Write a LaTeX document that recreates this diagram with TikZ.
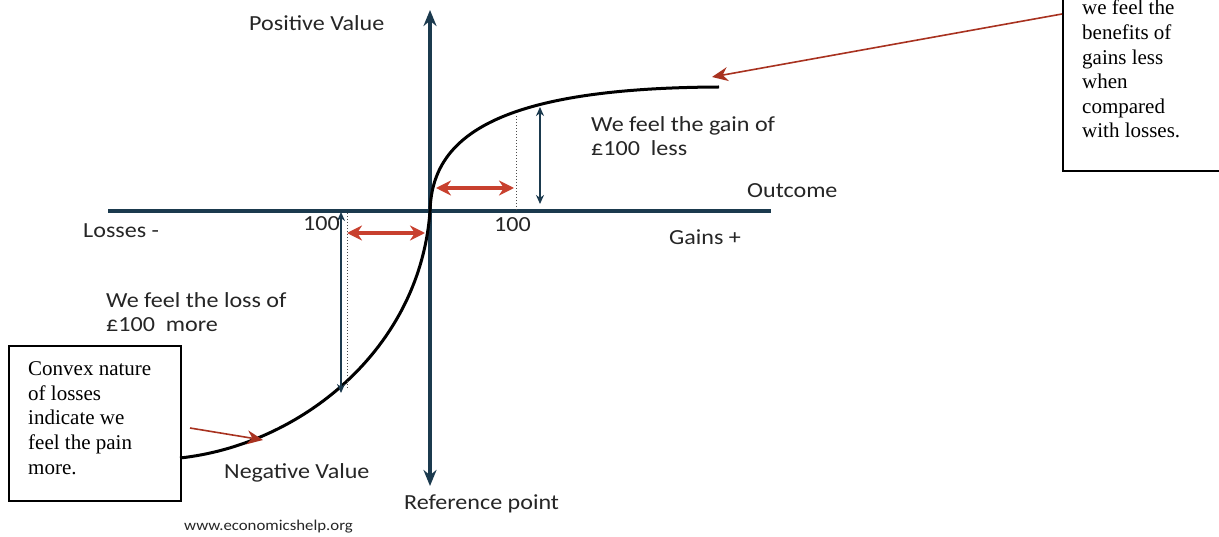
\documentclass[tikz,border=0pt]{standalone}
\usepackage{fontspec}
\setmainfont{Liberation Serif}
\newfontfamily\lblfont[FakeStretch=1.12]{Carlito}
\usetikzlibrary{arrows.meta}
\definecolor{axiscol}{HTML}{1B3A4E}
\definecolor{redarr}{HTML}{C8402E}
\definecolor{boxarr}{HTML}{A83220}
\tikzset{
  axisline/.style={axiscol, line width=3.2pt, -{Stealth[length=16pt,width=13pt]}},
  curveline/.style={black, line width=3pt},
  redarrow/.style={redarr, line width=3.6pt, {Stealth[length=15pt,width=15pt]}-{Stealth[length=15pt,width=15pt]}},
  gaparrow/.style={axiscol, line width=1.6pt, {Stealth[length=9pt,width=8pt]}-{Stealth[length=9pt,width=8pt]}},
  dotline/.style={black!70, line width=1pt, dotted},
  lbl/.style={font=\lblfont\fontsize{21.5}{24}\selectfont, text=black!85, inner sep=0pt, anchor=base west, align=left},
  boxtxt/.style={font=\fontsize{21}{24.6}\selectfont, inner sep=0pt, anchor=base west, align=left},
  callout/.style={draw=black, line width=1.6pt, rectangle, inner sep=0pt},
  calloutarrow/.style={boxarr, line width=1.6pt, -{Stealth[length=16pt,width=14pt]}},
}
\begin{document}
\begin{tikzpicture}[x=1pt,y=-1pt]
\useasboundingbox (0,0) rectangle (1219,537);
\clip (0,0) rectangle (1219,537);
\fill[white] (0,0) rectangle (1219,537);
% axes
\coordinate (origin) at (430,211);
\coordinate (xl) at (108,211);
\coordinate (xr) at (771,211);
\coordinate (yt) at (430,10);
\coordinate (yb) at (430,486);
\draw[axiscol, line width=3.2pt] (xl) -- (xr);
\draw[axisline] (origin) -- (yt);
\draw[axisline] (origin) -- (yb);
% value curve
\coordinate (lossend) at (180,458);
\coordinate (gainend) at (719,87);
\draw[curveline] (lossend) .. controls (300,445) and (420,350) .. (origin)
   .. controls (432,140) and (490,88) .. (gainend);
% dotted guides
\coordinate (dgt) at (516,116);
\coordinate (dgb) at (516,211);
\draw[dotline] (dgt) -- (dgb);
\coordinate (dlt) at (347,213);
\coordinate (dlb) at (347,388);
\draw[dotline] (dlt) -- (dlb);
% gap arrows
\coordinate (gat) at (540,107);
\coordinate (gab) at (540,204);
\draw[gaparrow] (gat) -- (gab);
\coordinate (lat) at (341,212);
\coordinate (lab) at (341,393);
\draw[gaparrow] (lat) -- (lab);
% red double arrows
\coordinate (ra1) at (436,188);
\coordinate (ra2) at (514,188);
\draw[redarrow] (ra1) -- (ra2);
\coordinate (rb1) at (347,233);
\coordinate (rb2) at (425,233);
\draw[redarrow] (rb1) -- (rb2);
% labels
\node[lbl] (pv) at (249,31) {Positive Value};
\node[lbl] (oc) at (747,198) {Outcome};
\node[lbl] (ls) at (83,238) {Losses -};
\node[lbl] (h1) at (303,231) {100};
\node[lbl] (h2) at (494,232) {100};
\node[lbl] (gp) at (669,245) {Gains +};
\node[lbl] (gain) at (591,156) {We feel the gain of\\\pounds100\ \ less};
\node[lbl] (loss) at (106,332) {We feel the loss of\\\pounds100\ \ more};
\node[lbl] (nv) at (224,478) {Negative Value};
\node[lbl] (rp) at (404,509) {Reference point};
\node[lbl, font=\lblfont\fontsize{15}{17}\selectfont] (www) at (184,530) {www.economicshelp.org};
% left callout
\node[callout, minimum width=172pt, minimum height=155pt, anchor=north west] (lbox) at (8,345) {};
\node[boxtxt] (ltxt) at (28,474) {Convex nature\\of losses\\indicate we\\feel the pain\\more.};
\coordinate (lastart) at (190,428);
\coordinate (laend) at (263,440);
\draw[calloutarrow] (lastart) -- (laend);
% right callout
\node[callout, minimum width=180pt, minimum height=240pt, anchor=south west] (rbox) at (1062,172) {};
\node[boxtxt] (rtxt) at (1082,138) {we feel the\\benefits of\\gains less\\when\\compared\\with losses.};
\coordinate (rastart) at (1062,14);
\coordinate (raend) at (712,77);
\draw[calloutarrow] (rastart) -- (raend);
\end{tikzpicture}
\end{document}
